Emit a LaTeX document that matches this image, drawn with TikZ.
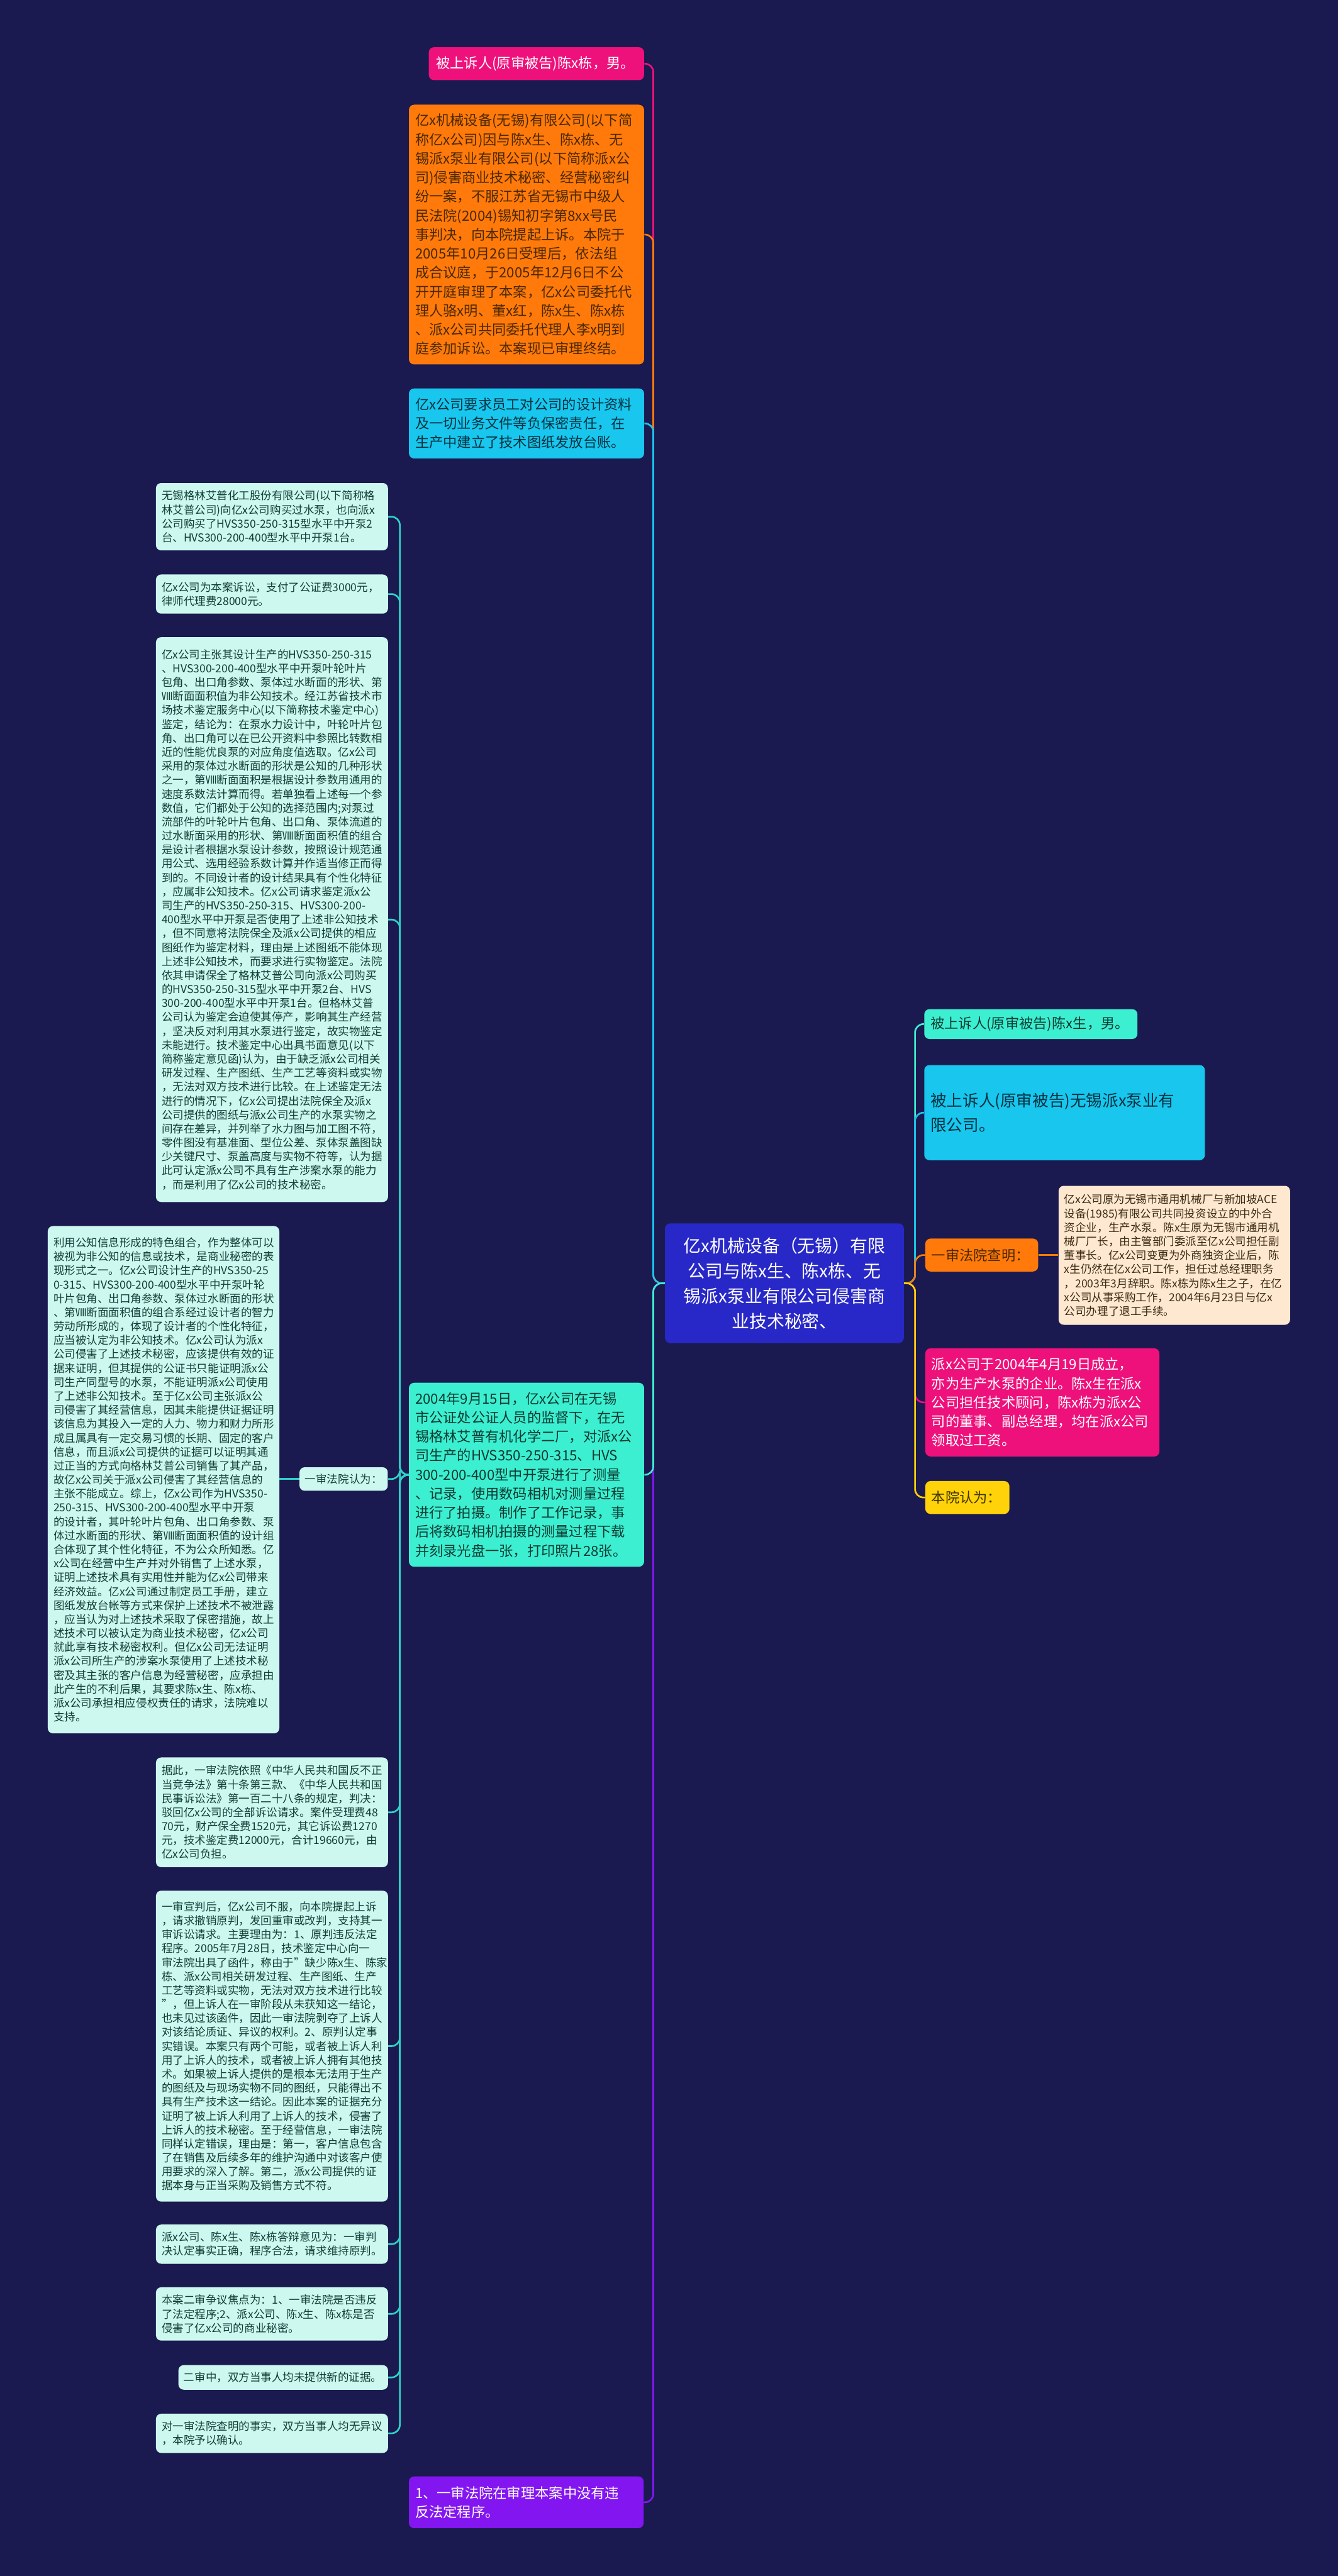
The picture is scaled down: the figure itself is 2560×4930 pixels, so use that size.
\documentclass[tikz,border=0pt]{standalone}
\usepackage{fontspec}
\setmainfont{Noto Sans CJK SC}
\definecolor{bgc}{HTML}{1B1A50}
\definecolor{pinkc}{HTML}{EE117B}
\definecolor{orangec}{HTML}{FF7A0B}
\definecolor{cyanc}{HTML}{18C6EE}
\definecolor{aquac}{HTML}{3DEFD1}
\definecolor{mintc}{HTML}{CDF8EF}
\definecolor{minttext}{HTML}{0F3F37}
\definecolor{mintline}{HTML}{2FD3C7}
\definecolor{purplec}{HTML}{8316F0}
\definecolor{centralc}{HTML}{2828C8}
\definecolor{creamc}{HTML}{FFE8D0}
\definecolor{yellowc}{HTML}{FFD20A}
\definecolor{darkbrown}{HTML}{4A2800}
\definecolor{darkcyan}{HTML}{04313F}
\definecolor{darkaqua}{HTML}{0B3B32}
\definecolor{darkyellow}{HTML}{3D3200}
\definecolor{darkcream}{HTML}{3B2A14}
\tikzset{
  bx/.style={rounded corners=5pt, anchor=north west, inner ysep=0pt, inner xsep=6pt, align=left},
  fbig/.style={font=\fontsize{13.4}{18.2}\selectfont},
  fsmall/.style={font=\fontsize{10.55}{13.35}\selectfont},
  mint/.style={bx, fill=mintc, text=minttext, inner xsep=5.5pt, fsmall, text width=211pt},
  conn/.style={line width=1.6pt, rounded corners=8pt},
}
\begin{document}
\begin{tikzpicture}[x=0.5pt,y=-0.5pt]
\useasboundingbox (0,0) rectangle (2560,4930);
\fill[bgc] (0,0) rectangle (2560,4930);

% ---------- left column under central node ----------
\node[bx, fill=pinkc, text=white, inner xsep=7pt, text width=192pt, minimum height=31.5pt, fbig] (pt) at (820,90) {被上诉人(原审被告)陈x栋，男。};

\node[bx, fill=orangec, text=darkbrown, text width=213pt, minimum height=248.5pt, fbig] (or) at (782,200) {亿x机械设备(无锡)有限公司(以下简\\称亿x公司)因与陈x生、陈x栋、无\\锡派x泵业有限公司(以下简称派x公\\司)侵害商业技术秘密、经营秘密纠\\纷一案，不服江苏省无锡市中级人\\民法院(2004)锡知初字第8xx号民\\事判决，向本院提起上诉。本院于\\2005年10月26日受理后，依法组\\成合议庭，于2005年12月6日不公\\开开庭审理了本案，亿x公司委托代\\理人骆x明、董x红，陈x生、陈x栋\\、派x公司共同委托代理人李x明到\\庭参加诉讼。本案现已审理终结。};

\node[bx, fill=cyanc, text=darkcyan, text width=213pt, minimum height=67pt, fbig] (cy) at (782,743) {亿x公司要求员工对公司的设计资料\\及一切业务文件等负保密责任，在\\生产中建立了技术图纸发放台账。};

\node[bx, fill=aquac, text=darkaqua, text width=213pt, minimum height=176pt, fbig] (gr) at (782,2646) {2004年9月15日，亿x公司在无锡\\市公证处公证人员的监督下，在无\\锡格林艾普有机化学二厂，对派x公\\司生产的HVS350-250-315、HVS\\300-200-400型中开泵进行了测量\\、记录，使用数码相机对测量过程\\进行了拍摄。制作了工作记录，事\\后将数码相机拍摄的测量过程下载\\并刻录光盘一张，打印照片28张。};

\node[bx, fill=purplec, text=white, text width=212.5pt, minimum height=49.5pt, fbig] (pu) at (782,4739) {1、一审法院在审理本案中没有违\\反法定程序。};

% ---------- mint children of the green box ----------
\node[mint, minimum height=64.5pt] (mA) at (298,924) {无锡格林艾普化工股份有限公司(以下简称格\\林艾普公司)向亿x公司购买过水泵，也向派x\\公司购买了HVS350-250-315型水平中开泵2\\台、HVS300-200-400型水平中开泵1台。};

\node[mint, minimum height=37.5pt] (mB) at (298,1099) {亿x公司为本案诉讼，支付了公证费3000元，\\律师代理费28000元。};

\node[mint, minimum height=540.5pt] (mC) at (298,1219) {亿x公司主张其设计生产的HVS350-250-315\\、HVS300-200-400型水平中开泵叶轮叶片\\包角、出口角参数、泵体过水断面的形状、第\\Ⅷ断面面积值为非公知技术。经江苏省技术市\\场技术鉴定服务中心(以下简称技术鉴定中心)\\鉴定，结论为：在泵水力设计中，叶轮叶片包\\角、出口角可以在已公开资料中参照比转数相\\近的性能优良泵的对应角度值选取。亿x公司\\采用的泵体过水断面的形状是公知的几种形状\\之一，第Ⅷ断面面积是根据设计参数用通用的\\速度系数法计算而得。若单独看上述每一个参\\数值，它们都处于公知的选择范围内;对泵过\\流部件的叶轮叶片包角、出口角、泵体流道的\\过水断面采用的形状、第Ⅷ断面面积值的组合\\是设计者根据水泵设计参数，按照设计规范通\\用公式、选用经验系数计算并作适当修正而得\\到的。不同设计者的设计结果具有个性化特征\\，应属非公知技术。亿x公司请求鉴定派x公\\司生产的HVS350-250-315、HVS300-200-\\400型水平中开泵是否使用了上述非公知技术\\，但不同意将法院保全及派x公司提供的相应\\图纸作为鉴定材料，理由是上述图纸不能体现\\上述非公知技术，而要求进行实物鉴定。法院\\依其申请保全了格林艾普公司向派x公司购买\\的HVS350-250-315型水平中开泵2台、HVS\\300-200-400型水平中开泵1台。但格林艾普\\公司认为鉴定会迫使其停产，影响其生产经营\\，坚决反对利用其水泵进行鉴定，故实物鉴定\\未能进行。技术鉴定中心出具书面意见(以下\\简称鉴定意见函)认为，由于缺乏派x公司相关\\研发过程、生产图纸、生产工艺等资料或实物\\，无法对双方技术进行比较。在上述鉴定无法\\进行的情况下，亿x公司提出法院保全及派x\\公司提供的图纸与派x公司生产的水泵实物之\\间存在差异，并列举了水力图与加工图不符，\\零件图没有基准面、型位公差、泵体泵盖图缺\\少关键尺寸、泵盖高度与实物不符等，认为据\\此可认定派x公司不具有生产涉案水泵的能力\\，而是利用了亿x公司的技术秘密。};

\node[rounded corners=5pt, fill=mintc, text=minttext, fsmall, inner sep=0pt, minimum width=84.5pt, minimum height=22.5pt] (lab) at (657.5,2830.5) {一审法院认为：};

\node[mint, text width=210.5pt, minimum height=485.5pt] (big) at (91,2346) {利用公知信息形成的特色组合，作为整体可以\\被视为非公知的信息或技术，是商业秘密的表\\现形式之一。亿x公司设计生产的HVS350-25\\0-315、HVS300-200-400型水平中开泵叶轮\\叶片包角、出口角参数、泵体过水断面的形状\\、第Ⅷ断面面积值的组合系经过设计者的智力\\劳动所形成的，体现了设计者的个性化特征，\\应当被认定为非公知技术。亿x公司认为派x\\公司侵害了上述技术秘密，应该提供有效的证\\据来证明，但其提供的公证书只能证明派x公\\司生产同型号的水泵，不能证明派x公司使用\\了上述非公知技术。至于亿x公司主张派x公\\司侵害了其经营信息，因其未能提供证据证明\\该信息为其投入一定的人力、物力和财力所形\\成且属具有一定交易习惯的长期、固定的客户\\信息，而且派x公司提供的证据可以证明其通\\过正当的方式向格林艾普公司销售了其产品，\\故亿x公司关于派x公司侵害了其经营信息的\\主张不能成立。综上，亿x公司作为HVS350-\\250-315、HVS300-200-400型水平中开泵\\的设计者，其叶轮叶片包角、出口角参数、泵\\体过水断面的形状、第Ⅷ断面面积值的设计组\\合体现了其个性化特征，不为公众所知悉。亿\\x公司在经营中生产并对外销售了上述水泵，\\证明上述技术具有实用性并能为亿x公司带来\\经济效益。亿x公司通过制定员工手册，建立\\图纸发放台帐等方式来保护上述技术不被泄露\\，应当认为对上述技术采取了保密措施，故上\\述技术可以被认定为商业技术秘密，亿x公司\\就此享有技术秘密权利。但亿x公司无法证明\\派x公司所生产的涉案水泵使用了上述技术秘\\密及其主张的客户信息为经营秘密，应承担由\\此产生的不利后果，其要求陈x生、陈x栋、\\派x公司承担相应侵权责任的请求，法院难以\\支持。};

\node[mint, minimum height=105pt] (mD) at (298,3363) {据此，一审法院依照《中华人民共和国反不正\\当竞争法》第十条第三款、《中华人民共和国\\民事诉讼法》第一百二十八条的规定，判决：\\驳回亿x公司的全部诉讼请求。案件受理费48\\70元，财产保全费1520元，其它诉讼费1270\\元，技术鉴定费12000元，合计19660元，由\\亿x公司负担。};

\node[mint, minimum height=297.5pt] (mE) at (298,3618) {一审宣判后，亿x公司不服，向本院提起上诉\\，请求撤销原判，发回重审或改判，支持其一\\审诉讼请求。主要理由为：1、原判违反法定\\程序。2005年7月28日，技术鉴定中心向一\\审法院出具了函件，称由于"缺少陈x生、陈家\\栋、派x公司相关研发过程、生产图纸、生产\\工艺等资料或实物，无法对双方技术进行比较\\"，但上诉人在一审阶段从未获知这一结论，\\也未见过该函件，因此一审法院剥夺了上诉人\\对该结论质证、异议的权利。2、原判认定事\\实错误。本案只有两个可能，或者被上诉人利\\用了上诉人的技术，或者被上诉人拥有其他技\\术。如果被上诉人提供的是根本无法用于生产\\的图纸及与现场实物不同的图纸，只能得出不\\具有生产技术这一结论。因此本案的证据充分\\证明了被上诉人利用了上诉人的技术，侵害了\\上诉人的技术秘密。至于经营信息，一审法院\\同样认定错误，理由是：第一，客户信息包含\\了在销售及后续多年的维护沟通中对该客户使\\用要求的深入了解。第二，派x公司提供的证\\据本身与正当采购及销售方式不符。};

\node[mint, minimum height=37.5pt] (mF) at (298,4257) {派x公司、陈x生、陈x栋答辩意见为：一审判\\决认定事实正确，程序合法，请求维持原判。};

\node[mint, minimum height=51pt] (mG) at (298,4377) {本案二审争议焦点为：1、一审法院是否违反\\了法定程序;2、派x公司、陈x生、陈x栋是否\\侵害了亿x公司的商业秘密。};

\node[mint, inner xsep=5pt, text width=190.5pt, minimum height=23.5pt] (mH) at (341,4526) {二审中，双方当事人均未提供新的证据。};

\node[mint, minimum height=37.5pt] (mI) at (298,4619) {对一审法院查明的事实，双方当事人均无异议\\，本院予以确认。};

% ---------- central node ----------
\node[bx, fill=centralc, text=white, inner xsep=7pt, text width=214.5pt, minimum height=114.5pt, align=center, font=\fontsize{16.8}{24}\selectfont] (cen) at (1272,2341) {亿x机械设备（无锡）有限\\公司与陈x生、陈x栋、无\\锡派x泵业有限公司侵害商\\业技术秘密、};

% ---------- right side ----------
\node[bx, fill=aquac, text=darkaqua, text width=192pt, minimum height=28.5pt, fbig] (r1) at (1768,1931) {被上诉人(原审被告)陈x生，男。};

\node[bx, fill=cyanc, text=darkcyan, text width=256.5pt, minimum height=91pt, font=\fontsize{15.4}{23.5}\selectfont] (r2) at (1768,2038) {被上诉人(原审被告)无锡派x泵业有\\限公司。};

\node[bx, fill=orangec, text=darkbrown, text width=96pt, minimum height=31.5pt, fbig] (r3) at (1770,2370) {一审法院查明：};

\node[bx, fill=creamc, text=darkcream, inner xsep=5.5pt, text width=210.5pt, minimum height=133pt, fsmall] (cr) at (2025,2269) {亿x公司原为无锡市通用机械厂与新加坡ACE\\设备(1985)有限公司共同投资设立的中外合\\资企业，生产水泵。陈x生原为无锡市通用机\\械厂厂长，由主管部门委派至亿x公司担任副\\董事长。亿x公司变更为外商独资企业后，陈\\x生仍然在亿x公司工作，担任过总经理职务\\，2003年3月辞职。陈x栋为陈x生之子，在亿\\x公司从事采购工作，2004年6月23日与亿x\\公司办理了退工手续。};

\node[bx, fill=pinkc, text=white, text width=212pt, minimum height=103.5pt, fbig] (r4) at (1770,2580) {派x公司于2004年4月19日成立，\\亦为生产水泵的企业。陈x生在派x\\公司担任技术顾问，陈x栋为派x公\\司的董事、副总经理，均在派x公司\\领取过工资。};

\node[bx, fill=yellowc, text=darkyellow, text width=68.5pt, minimum height=31.5pt, fbig] (r5) at (1770,2834) {本院认为：};

% ---------- connectors: central to left ----------
\draw[conn, pinkc] (cen.west) -- ([xshift=-11pt]cen.west) |- (pt.east);
\draw[conn, orangec] (cen.west) -- ([xshift=-11pt]cen.west) |- (or.east);
\draw[conn, cyanc] (cen.west) -- ([xshift=-11pt]cen.west) |- (cy.east);
\draw[conn, purplec] (cen.west) -- ([xshift=-11pt]cen.west) |- (pu.east);
\draw[conn, aquac] (cen.west) -- ([xshift=-11pt]cen.west) |- (gr.east);

% ---------- connectors: central to right ----------
\draw[conn, aquac] (cen.east) -- ([xshift=10.5pt]cen.east) |- (r1.west);
\draw[conn, cyanc] (cen.east) -- ([xshift=10.5pt]cen.east) |- (r2.west);
\draw[conn, orangec] (cen.east) -- ([xshift=10.5pt]cen.east) |- (r3.west);
\draw[conn, pinkc] (cen.east) -- ([xshift=10.5pt]cen.east) |- (r4.west);
\draw[conn, yellowc] (cen.east) -- ([xshift=10.5pt]cen.east) |- (r5.west);
\draw[conn, orangec] (r3.east) -- (r3.east -| cr.west);

% ---------- connectors: green box to mint children ----------
\foreach \m in {mA,mB,mC,lab,mD,mE,mF,mG,mH,mI}{
  \draw[conn, mintline] (gr.west) -- ([xshift=-8.5pt]gr.west) |- (\m.east);
}
\draw[conn, mintline] (lab.west) -- (lab.west -| big.east);

\end{tikzpicture}
\end{document}
